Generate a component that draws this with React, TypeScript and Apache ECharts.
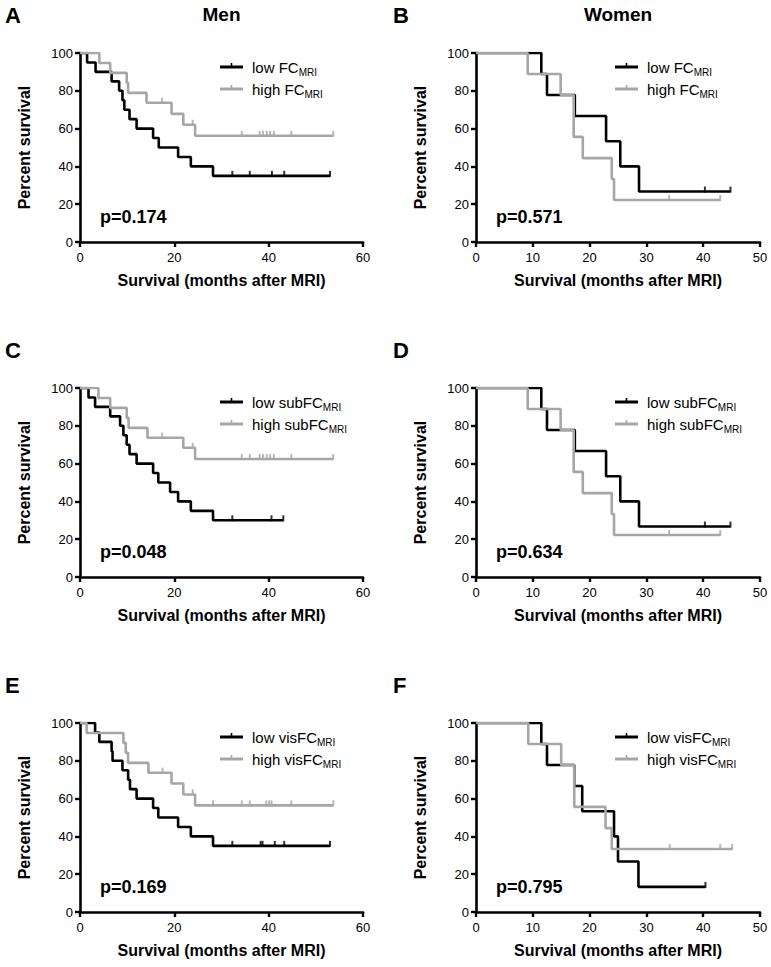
import React, { useEffect, useRef } from "react";
import * as echarts from "echarts";

// ---------- DATA ----------
const yTicks = [0, 20, 40, 60, 80, 100];
const panelLetters = ["A", "B", "C", "D", "E", "F"];
const columnTitles = ["Men", "Women"];
const pValues = ["0.174", "0.571", "0.048", "0.634", "0.169", "0.795"];
const markerLabels = ["FC", "FC", "subFC", "subFC", "visFC", "visFC"];

// A: Men, FC
const menFCLowTime = [0, 1.5, 3.3, 6.7, 8.3, 9.0, 9.4, 10.5, 12.0, 15.5, 16.7, 20.8, 23.5, 28.2, 53.0];
const menFCLowSurv = [100, 95, 90, 85, 80, 75, 70, 65, 60, 55, 50, 45, 40, 35, 35];
const menFCLowCens = [32.3, 36.0, 40.7, 43.3, 53.0];
const menFCHighTime = [0, 4.1, 6.4, 9.9, 10.2, 14.1, 19.4, 21.9, 24.4, 53.7];
const menFCHighSurv = [100, 94.7, 89.5, 84.2, 78.9, 73.7, 67.8, 62.0, 56.2, 56.2];
const menFCHighCens = [17.4, 23.9, 34.3, 38.1, 38.8, 39.6, 40.3, 41.1, 44.8, 53.7];

// B: Women, FC
const womenFCLowTime = [0, 11.5, 12.5, 17.4, 22.9, 25.4, 28.7, 44.8];
const womenFCLowSurv = [100, 88.9, 77.8, 66.7, 53.3, 40.0, 26.7, 26.7];
const womenFCLowCens = [40.3, 44.8];
const womenFCHighTime = [0, 9.1, 14.9, 17.2, 18.8, 23.9, 24.3, 43.0];
const womenFCHighSurv = [100, 88.9, 77.8, 55.6, 44.4, 33.3, 22.2, 22.2];
const womenFCHighCens = [34.0, 43.0];

// C: Men, subFC
const menSubLowTime = [0, 1.8, 3.2, 6.4, 8.5, 9.2, 9.9, 10.5, 12.0, 15.5, 16.6, 19.1, 20.8, 23.5, 28.2, 43.1];
const menSubLowSurv = [100, 95, 90, 85, 80, 75, 70, 65, 60, 55, 50, 45, 40, 35, 30, 30];
const menSubLowCens = [32.3, 40.6, 43.1];
const menSubHighTime = [0, 3.9, 6.4, 9.9, 10.3, 14.3, 21.9, 24.4, 53.7];
const menSubHighSurv = [100, 94.7, 89.5, 84.2, 78.9, 73.7, 68.4, 62.4, 62.4];
const menSubHighCens = [17.4, 23.9, 34.3, 36.0, 38.1, 38.8, 39.6, 40.3, 41.1, 44.8, 53.7];

// D: Women, subFC
const womenSubLowTime = [0, 11.5, 12.5, 17.4, 22.9, 25.4, 28.7, 44.8];
const womenSubLowSurv = [100, 88.9, 77.8, 66.7, 53.3, 40.0, 26.7, 26.7];
const womenSubLowCens = [40.3, 44.8];
const womenSubHighTime = [0, 9.1, 14.9, 17.2, 18.8, 23.9, 24.3, 43.0];
const womenSubHighSurv = [100, 88.9, 77.8, 55.6, 44.4, 33.3, 22.2, 22.2];
const womenSubHighCens = [34.0, 43.0];

// E: Men, visFC
const menVisLowTime = [0, 3.2, 4.1, 6.7, 6.9, 9.0, 10.2, 10.6, 12.0, 15.5, 16.6, 20.8, 23.5, 28.2, 53.0];
const menVisLowSurv = [100, 95, 90, 85, 80, 75, 70, 65, 60, 55, 50, 45, 40, 35, 35];
const menVisLowCens = [32.3, 38.3, 38.7, 41.3, 43.3, 53.0];
const menVisHighTime = [0, 1.4, 9.2, 9.7, 10.2, 14.5, 19.4, 21.9, 24.4, 53.7];
const menVisHighSurv = [100, 94.7, 89.5, 84.2, 78.9, 73.7, 68.0, 62.2, 56.4, 56.4];
const menVisHighCens = [17.5, 23.9, 28.2, 34.3, 36.0, 39.5, 40.1, 40.6, 44.8, 53.7];

// F: Women, visFC
const womenVisLowTime = [0, 11.5, 12.5, 17.3, 18.7, 24.3, 25.0, 28.6, 40.4];
const womenVisLowSurv = [100, 88.9, 77.8, 66.7, 53.3, 40.0, 26.7, 13.3, 13.3];
const womenVisLowCens = [40.4];
const womenVisHighTime = [0, 9.2, 15.0, 17.3, 22.8, 23.9, 45.1];
const womenVisHighSurv = [100, 88.9, 77.8, 55.6, 44.4, 33.3, 33.3];
const womenVisHighCens = [34.1, 43.0, 45.1];

const xMaxMen = 60;
const xIntervalMen = 20;
const xMaxWomen = 50;
const xIntervalWomen = 10;

// ---------- LAYOUT / STYLE ----------
const FONT = "'Liberation Sans', Arial, Helvetica, sans-serif";
const BLACK = "#000000";
const GRAY = "#a6a6a6";
const colLeft = [80, 476];
const colWidth = [283, 284];
const rowTop = [53, 388, 723];
const plotHeight = 189;

type Curve = { t: number[]; s: number[]; c: number[] };
const panels: { low: Curve; high: Curve; xMax: number; xInt: number }[] = [
  { low: { t: menFCLowTime, s: menFCLowSurv, c: menFCLowCens }, high: { t: menFCHighTime, s: menFCHighSurv, c: menFCHighCens }, xMax: xMaxMen, xInt: xIntervalMen },
  { low: { t: womenFCLowTime, s: womenFCLowSurv, c: womenFCLowCens }, high: { t: womenFCHighTime, s: womenFCHighSurv, c: womenFCHighCens }, xMax: xMaxWomen, xInt: xIntervalWomen },
  { low: { t: menSubLowTime, s: menSubLowSurv, c: menSubLowCens }, high: { t: menSubHighTime, s: menSubHighSurv, c: menSubHighCens }, xMax: xMaxMen, xInt: xIntervalMen },
  { low: { t: womenSubLowTime, s: womenSubLowSurv, c: womenSubLowCens }, high: { t: womenSubHighTime, s: womenSubHighSurv, c: womenSubHighCens }, xMax: xMaxWomen, xInt: xIntervalWomen },
  { low: { t: menVisLowTime, s: menVisLowSurv, c: menVisLowCens }, high: { t: menVisHighTime, s: menVisHighSurv, c: menVisHighCens }, xMax: xMaxMen, xInt: xIntervalMen },
  { low: { t: womenVisLowTime, s: womenVisLowSurv, c: womenVisLowCens }, high: { t: womenVisHighTime, s: womenVisHighSurv, c: womenVisHighCens }, xMax: xMaxWomen, xInt: xIntervalWomen },
];

function survAt(curve: Curve, time: number): number {
  let v = curve.s[0];
  for (let i = 0; i < curve.t.length; i++) if (curve.t[i] <= time) v = curve.s[i];
  return v;
}

function buildOption() {
  const grid: any[] = [];
  const xAxis: any[] = [];
  const yAxis: any[] = [];
  const series: any[] = [];
  const graphic: any[] = [];

  const axisCommon = {
    axisLine: { show: true, onZero: false, lineStyle: { color: BLACK, width: 2.6 } },
    axisTick: { show: true, length: 5, lineStyle: { color: BLACK, width: 2.4 } },
    axisLabel: { color: BLACK, fontSize: 13, fontFamily: FONT },
    splitLine: { show: false },
    nameLocation: "middle",
    nameTextStyle: { color: BLACK, fontSize: 16, fontWeight: "bold", fontFamily: FONT },
  };

  panels.forEach((p, i) => {
    const col = i % 2;
    const row = Math.floor(i / 2);
    const left = colLeft[col];
    const top = rowTop[row];
    grid.push({ left, top, width: colWidth[col], height: plotHeight, containLabel: false });
    xAxis.push({
      ...axisCommon,
      gridIndex: i,
      type: "value",
      min: 0,
      max: p.xMax,
      interval: p.xInt,
      name: "Survival (months after MRI)",
      nameGap: 30,
      axisLabel: { ...axisCommon.axisLabel, margin: 9 },
    });
    yAxis.push({
      ...axisCommon,
      gridIndex: i,
      type: "value",
      min: yTicks[0],
      max: yTicks[yTicks.length - 1],
      interval: yTicks[1] - yTicks[0],
      name: "Percent survival",
      nameGap: 48,
      axisLabel: { ...axisCommon.axisLabel, margin: 7 },
    });

    const curves: [Curve, string][] = [
      [p.low, BLACK],
      [p.high, GRAY],
    ];
    curves.forEach(([cv, color], k) => {
      series.push({
        type: "line",
        xAxisIndex: i,
        yAxisIndex: i,
        step: "end",
        data: cv.t.map((t, j) => [t, cv.s[j]]),
        showSymbol: false,
        symbol: "none",
        silent: true,
        lineStyle: { color, width: 2.6 },
        itemStyle: { color },
        z: 3 + k,
      });
      series.push({
        type: "scatter",
        xAxisIndex: i,
        yAxisIndex: i,
        data: cv.c.map((t) => [t, survAt(cv, t)]),
        symbol: "rect",
        symbolSize: [2, 6],
        symbolOffset: [0, -2],
        silent: true,
        itemStyle: { color },
        z: 3 + k,
      });
    });

    // panel letter
    graphic.push({
      type: "text",
      left: col === 0 ? 5 : 393,
      top: top - 49,
      style: { text: panelLetters[i], fontSize: 22, fontWeight: "bold", fontFamily: FONT, fill: BLACK },
    });

    // legend
    const lx = col === 0 ? 220 : 615;
    const tx = lx + 32;
    [
      ["low", BLACK, top + 14],
      ["high", GRAY, top + 36],
    ].forEach(([word, color, ly]: any) => {
      graphic.push({ type: "line", shape: { x1: lx, y1: ly, x2: lx + 23, y2: ly }, style: { stroke: color, lineWidth: 3 } });
      graphic.push({ type: "line", shape: { x1: lx + 11.5, y1: ly, x2: lx + 11.5, y2: ly - 4 }, style: { stroke: color, lineWidth: 1.6 } });
      graphic.push({
        type: "text",
        x: tx,
        y: ly,
        style: {
          text: `{a|${word} ${markerLabels[i]}}{s|MRI}`,
          verticalAlign: "middle",
          rich: {
            a: { fontSize: 15, fontFamily: FONT, fill: BLACK, lineHeight: 20 },
            s: { fontSize: 10, fontFamily: FONT, fill: BLACK, lineHeight: 10, verticalAlign: "bottom" },
          },
        },
      });
    });

    // p-value
    graphic.push({
      type: "text",
      x: left + 20,
      y: top + 164,
      style: { text: `p=${pValues[i]}`, fontSize: 18, fontWeight: "bold", fontFamily: FONT, fill: BLACK, verticalAlign: "middle" },
    });
  });

  columnTitles.forEach((t, col) => {
    graphic.push({
      type: "text",
      x: colLeft[col] + colWidth[col] / 2,
      y: 14,
      style: { text: t, fontSize: 19, fontWeight: "bold", fontFamily: FONT, fill: BLACK, align: "center", verticalAlign: "middle" },
    });
  });

  return {
    animation: false,
    backgroundColor: "#ffffff",
    grid,
    xAxis,
    yAxis,
    series,
    graphic,
  };
}

export default function App() {
  const ref = useRef<HTMLDivElement>(null);
  useEffect(() => {
    if (!ref.current) return;
    const chart = echarts.init(ref.current, undefined, { renderer: "svg" });
    chart.setOption(buildOption() as any);
    return () => chart.dispose();
  }, []);
  return (
    <div
      ref={ref}
      style={{ position: "absolute", left: 0, top: 0, width: 771, height: 967, background: "#fff" }}
    />
  );
}
